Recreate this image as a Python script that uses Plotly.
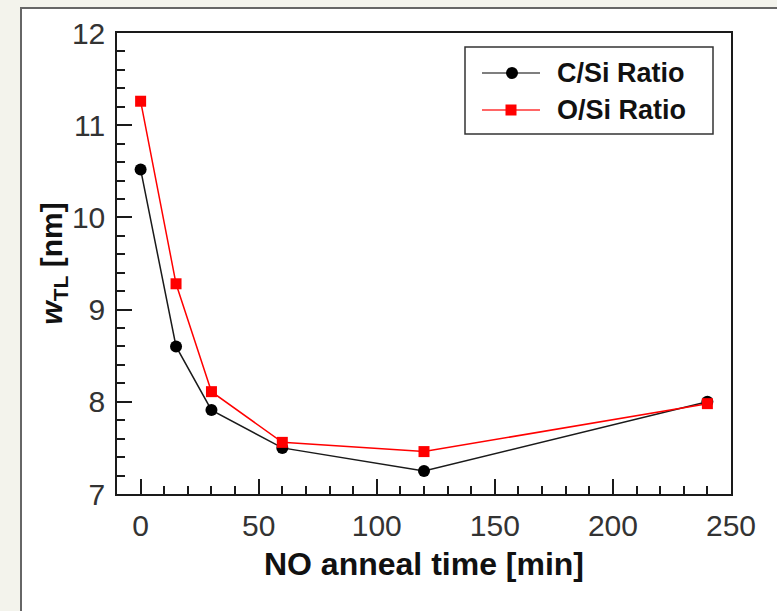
import plotly.graph_objects as go

anneal_time = [0, 15, 30, 60, 120, 240]
c_si_ratio = [10.52, 8.60, 7.91, 7.50, 7.25, 8.00]
o_si_ratio = [11.26, 9.28, 8.11, 7.56, 7.46, 7.98]

series_names = ["C/Si Ratio", "O/Si Ratio"]
series_colors = ["#000000", "#ff0000"]
line_colors = ["#1a1a1a", "#ff0000"]
x_title = "NO anneal time [min]"
y_title = "<b><i>w</i><sub>TL</sub> [nm]</b>"

FONT = "Liberation Sans, Arial, Helvetica, sans-serif"

fig = go.Figure()
fig.add_trace(go.Scatter(
    x=anneal_time, y=c_si_ratio, name=series_names[0], mode="lines+markers",
    line=dict(color=line_colors[0], width=1.5),
    marker=dict(symbol="circle", size=12, color=series_colors[0]),
    showlegend=False,
))
fig.add_trace(go.Scatter(
    x=anneal_time, y=o_si_ratio, name=series_names[1], mode="lines+markers",
    line=dict(color=line_colors[1], width=1.5),
    marker=dict(symbol="square", size=11, color=series_colors[1]),
    showlegend=False,
))

L, R, T, B = 117, 46, 33, 117
W, H = 777, 611
pw, ph = W - L - R, H - T - B

def px(xp):
    return (xp - L) / pw

def py(yp):
    return (H - B - yp) / ph

# outer white panel with frame
fig.add_shape(type="rect", xref="paper", yref="paper",
              x0=px(21), x1=px(800), y0=py(8), y1=py(640),
              fillcolor="white", line=dict(color="#666666", width=2), layer="below")

# custom legend box (styling only)
fig.add_shape(type="rect", xref="paper", yref="paper",
              x0=px(465), x1=px(713), y0=py(47), y1=py(134),
              fillcolor="white", line=dict(color="#333333", width=1.5), layer="above")
leg_rows = [73, 110]
for i, name in enumerate(series_names):
    yc = leg_rows[i]
    fig.add_shape(type="line", xref="paper", yref="paper",
                  x0=px(482), x1=px(540), y0=py(yc), y1=py(yc),
                  line=dict(color="#555555" if i == 0 else "#ff3333", width=1.5), layer="above")
    if i == 0:
        fig.add_shape(type="circle", xref="paper", yref="paper",
                      x0=px(506), x1=px(518), y0=py(yc - 6), y1=py(yc + 6),
                      fillcolor=series_colors[i], line=dict(width=0), layer="above")
    else:
        fig.add_shape(type="rect", xref="paper", yref="paper",
                      x0=px(505.5), x1=px(516.5), y0=py(yc - 5.5), y1=py(yc + 5.5),
                      fillcolor=series_colors[i], line=dict(width=0), layer="above")
    fig.add_annotation(xref="paper", yref="paper", x=px(555), y=py(yc),
                       xanchor="left", yanchor="middle", showarrow=False,
                       text="<b>" + name + "</b>",
                       font=dict(family=FONT, size=27, color="#111111"))

axis_common = dict(
    showline=True, linecolor="#1a1a1a", linewidth=1.5, mirror=True,
    ticks="inside", ticklen=15, tickwidth=1.5, tickcolor="#1a1a1a",
    showgrid=False, zeroline=False,
    tickfont=dict(family=FONT, size=30, color="#333333"),
)

fig.update_xaxes(
    range=[-10, 250], dtick=50, tick0=0,
    minor=dict(dtick=10, ticks="inside", ticklen=8, tickwidth=1.5, tickcolor="#1a1a1a", showgrid=False),
    title=dict(text="<b>" + x_title + "</b>", font=dict(family=FONT, size=32, color="#111111"), standoff=12),
    ticklabelstandoff=4,
    **axis_common,
)
fig.update_yaxes(
    range=[7, 12], dtick=1,
    minor=dict(dtick=0.2, ticks="inside", ticklen=8, tickwidth=1.5, tickcolor="#1a1a1a", showgrid=False),
    title=dict(text=y_title, font=dict(family=FONT, size=30, color="#111111"), standoff=0),
    ticklabelstandoff=4,
    **axis_common,
)

fig.update_layout(
    width=W, height=H,
    margin=dict(l=L, r=R, t=T, b=B),
    paper_bgcolor="#f3f3ec", plot_bgcolor="white",
    showlegend=False,
    font=dict(family=FONT),
)

fig.write_html("out.html")
